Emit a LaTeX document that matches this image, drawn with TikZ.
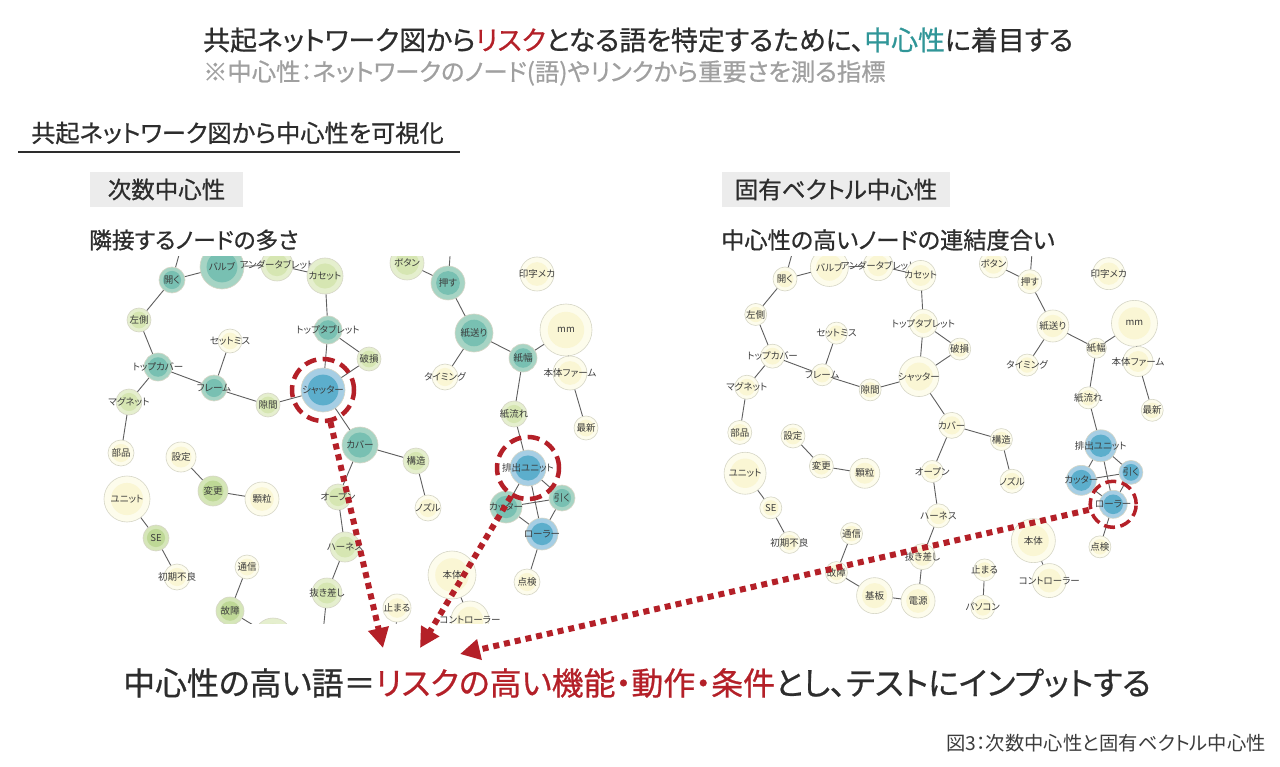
\documentclass[tikz,border=0pt]{standalone}
\usepackage{fontspec}
\setmainfont[RawFeature=+palt]{Noto Sans CJK JP}
\newfontfamily\jpheavy[RawFeature=+palt, FakeBold=0.7]{Noto Sans CJK JP}
\usetikzlibrary{arrows.meta}

% colours
\definecolor{inkdark}{RGB}{45,45,45}
\definecolor{inkgrey}{RGB}{60,60,60}
\definecolor{subgrey}{RGB}{160,160,160}
\definecolor{riskred}{RGB}{180,32,40}
\definecolor{keyteal}{RGB}{48,150,152}
\definecolor{boxgrey}{RGB}{236,236,236}
\definecolor{edgegrey}{RGB}{95,95,95}
\definecolor{bubbleline}{RGB}{214,214,198}
\definecolor{paleout}{RGB}{253,252,236}
\definecolor{palein}{RGB}{250,246,212}
\definecolor{lgreenout}{RGB}{229,239,206}
\definecolor{lgreenin}{RGB}{214,230,178}
\definecolor{greenout}{RGB}{213,230,184}
\definecolor{greenin}{RGB}{190,216,150}
\definecolor{tealout}{RGB}{166,212,196}
\definecolor{tealin}{RGB}{120,192,178}
\definecolor{blueout}{RGB}{166,206,228}
\definecolor{bluein}{RGB}{92,174,204}

% name/x/y/label/type left/radius left/type right/radius right
\newcommand{\netdata}{%
  hiraku/172/280/開く/teal/13/pale/12,
  barubu/222/267/バルブ/teal/22/pale/19,
  under/277/265/アンダータブレット/lgreen/16/pale/15,
  kaset/325/276/カセット/lgreen/18/pale/15,
  hidari/139/320/左側/lgreen/12/pale/11,
  setmiss/230/341/セットミス/pale/12/pale/11,
  topcover/158/367/トップカバー/teal/14/pale/12,
  frame/214/388/フレーム/teal/13/pale/11,
  sukima/268/405/隙間/lgreen/12/pale/11,
  magnet/129/402/マグネット/lgreen/13/pale/12,
  toptab/328/330/トップタブレット/teal/14/pale/14,
  hason/369/359/破損/lgreen/12/pale/11,
  shutter/323/390/シャッター/blue/22/pale/20,
  button/407/263/ボタン/lgreen/17/pale/14,
  osu/448/283/押す/teal/17/pale/12,
  inji/537/274/印字メカ/pale/17/pale/16,
  okuri/474/333/紙送り/teal/19/pale/16,
  mm/566/330/mm/pale/26/pale/23,
  haba/523/358/紙幅/teal/14/pale/10,
  timing/445/377/タイミング/pale/13/pale/11,
  firm/570/373/本体ファーム/pale/17/pale/15,
  nagare/514/414/紙流れ/lgreen/13/pale/11,
  saishin/586/428/最新/pale/12/pale/11,
  buhin/121/453/部品/pale/13/pale/12,
  settei/181/457/設定/pale/15/pale/12,
  henkou/213/491/変更/green/15/pale/12,
  karyu/262/499/顆粒/pale/17/pale/15,
  unit/127/499/ユニット/pale/23/pale/21,
  se/156/538/SE/green/13/pale/11,
  shoki/177/577/初期不良/pale/13/pale/11,
  tsushin/247/567/通信/pale/12/pale/11,
  koshou/230/611/故障/green/14/pale/11,
  kiban/273/637/基板/lgreen/19/pale/18,
  dengen/322/643/電源/pale/17/pale/17,
  cover/360/445/カバー/teal/18/pale/13,
  kouzou/416/461/構造/lgreen/13/pale/11,
  open/338/497/オープン/lgreen/13/pale/11,
  nozzle/428/508/ノズル/pale/13/pale/12,
  harness/345/547/ハーネス/lgreen/15/pale/12,
  nukisashi/327/593/抜き差し/lgreen/15/pale/13,
  tomaru/397/608/止まる/pale/14/pale/11,
  pasokon/395/650/パソコン/pale/13/pale/12,
  hontai/452/575/本体/pale/24/pale/22,
  controller/470/620/コントローラー/pale/19/pale/17,
  haishutsu/528/468/排出ユニット/blue/18/blue/16,
  cutter/506/507/カッター/teal/16/blue/15,
  hiku/562/498/引く/teal/13/blue/12,
  roller/542/534/ローラー/blue/16/blue/14,
  tenken/527/582/点検/pale/13/pale/11}

\newcommand{\netlinks}{%
  top1/hiraku, hiraku/barubu, barubu/under, under/kaset, hiraku/hidari,
  hidari/topcover, topcover/magnet, topcover/frame, frame/setmiss,
  frame/sukima, sukima/shutter, magnet/buhin, kaset/toptab,
  toptab/shutter, toptab/hason, hason/shutter, shutter/cover,
  cover/kouzou, kouzou/nozzle, cover/open, open/harness,
  harness/nukisashi, nukisashi/dengen, kiban/dengen, koshou/kiban,
  tsushin/koshou, settei/henkou, henkou/karyu, unit/se, se/shoki,
  tomaru/pasokon, hontai/controller, button/osu, top2/osu,
  osu/okuri, okuri/timing, okuri/haba, haba/mm, mm/firm,
  firm/saishin, haba/nagare, nagare/haishutsu, haishutsu/cutter,
  haishutsu/hiku, haishutsu/roller, cutter/hiku, cutter/roller,
  hiku/roller, roller/tenken}

\begin{document}
\begin{tikzpicture}[
    x=1pt, y=-1pt,
    bubble/.style 2 args={circle, draw=bubbleline, line width=0.6pt,
      fill=#1out, minimum size=2*#2 pt, inner sep=0pt, text=inkgrey,
      font=\fontsize{9.5}{10}\selectfont,
      path picture={\fill[#1in] (path picture bounding box.center) circle ({0.7*#2 pt});}},
    netedge/.style={draw=edgegrey, line width=0.9pt},
    riskring/.style={draw=riskred, line width=4.5pt, dash pattern=on 12pt off 6.5pt},
    riskarrow/.style={draw=riskred, line width=6pt, dash pattern=on 6pt off 5pt,
      -{Triangle[length=20pt, width=20pt]}},
    catbox/.style={fill=boxgrey, inner sep=0pt, text=inkdark,
      font=\jpheavy\fontsize{23.5}{27}\selectfont},
    plain/.style={inner sep=0pt, anchor=west}
]
\useasboundingbox[fill=white] (0,0) rectangle (1280,767);

% --- Headline ---
\node[plain, text=inkdark, font=\jpheavy\fontsize{26.9}{30}\selectfont] (title) at (203,40)
  {共起ネットワーク図から{\color{riskred}リスク}となる語を特定するために、{\color{keyteal}中心性}に着目する};
\node[plain, text=subgrey, font=\jpheavy\fontsize{24.3}{28}\selectfont] (note) at (203,73)
  {※中心性：ネットワークのノード(語)やリンクから重要さを測る指標};

% --- Section header ---
\node[plain, text=inkdark, font=\jpheavy\fontsize{24.2}{28}\selectfont] (section) at (31,133)
  {共起ネットワーク図から中心性を可視化};
\draw[line width=2pt, inkdark] (18,152) -- (460,152);

\node[catbox, minimum width=153pt, minimum height=35pt] (degree) at (166.5,189.5) {次数中心性};
\node[catbox, minimum width=228pt, minimum height=35pt] (eigen) at (836,189.5) {固有ベクトル中心性};
\node[plain, text=inkdark, font=\jpheavy\fontsize{22.7}{26}\selectfont] (degreenote) at (89,240)
  {隣接するノードの多さ};
\node[plain, text=inkdark, font=\jpheavy\fontsize{23.2}{26}\selectfont] (eigennote) at (721,240)
  {中心性の高いノードの連結度合い};

% --- Degree centrality network ---
\begin{scope}
  \clip (95,257) rectangle (615,623);
  \coordinate (top1) at (186,230);
  \coordinate (top2) at (452,230);
  \foreach \n/\x/\y/\lab/\lt/\lr/\rt/\rr in \netdata
    \node[bubble/.expanded={\lt}{\lr}] (\n) at (\x,\y) {\makebox[0pt]{\lab}};
  \foreach \a/\b in \netlinks
    \draw[netedge] (\a) -- (\b);
\end{scope}

% --- Eigenvector centrality network ---
\begin{scope}
  \clip (700,257) rectangle (1200,630);
  \coordinate (rtop1) at ({785+(186-172)*0.887},{279+(230-280)*0.887});
  \coordinate (rtop2) at ({785+(452-172)*0.887},{279+(230-280)*0.887});
  \foreach \n/\x/\y/\lab/\lt/\lr/\rt/\rr in \netdata
    \node[bubble/.expanded={\rt}{\rr}] (r\n) at ({785+(\x-172)*0.887},{279+(\y-280)*0.887})
      {\makebox[0pt]{\lab}};
  \foreach \a/\b in \netlinks
    \draw[netedge] (r\a) -- (r\b);
\end{scope}

% --- High-risk words ---
\draw[riskring] (shutter.center) circle (31pt);
\draw[riskring] (haishutsu.center) circle (31pt);
\draw[riskring, line width=3.5pt, dash pattern=on 11pt off 5.5pt] (rroller.center) circle (23pt);

\coordinate (tipA) at (383,648);
\coordinate (tipB) at (420,648);
\coordinate (tipC) at (460,654);
\draw[riskarrow, shorten <=33pt] (shutter.center) -- (tipA);
\draw[riskarrow, shorten <=33pt] (haishutsu.center) -- (tipB);
\draw[riskarrow, shorten <=25pt] (rroller.center) -- (tipC);

% --- Conclusion ---
\node[plain, text=inkdark, font=\jpheavy\fontsize{31.9}{36}\selectfont] (result) at (123,683)
  {中心性の高い語＝{\color{riskred}リスクの高い機能・動作・条件}とし、テストにインプットする};
\node[inner sep=0pt, anchor=east, text=inkgrey, font=\fontsize{19.3}{22}\selectfont] (caption)
  at (1266,743) {図3：次数中心性と固有ベクトル中心性};

\end{tikzpicture}
\end{document}
